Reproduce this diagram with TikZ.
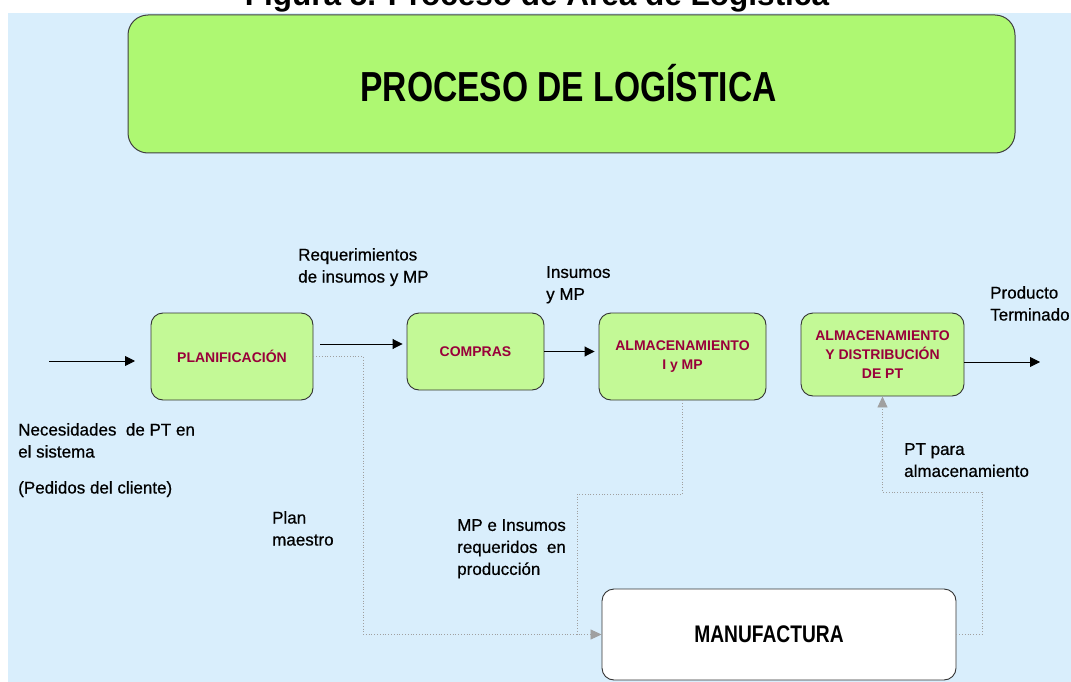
\documentclass[tikz,border=0pt]{standalone}
\usepackage{fontspec}
\setmainfont{Liberation Sans}
\newfontfamily\narrowfont[FakeStretch=0.8]{Liberation Sans}
\newfontfamily\labelfont[FakeBold=0.6]{Liberation Sans}
\usetikzlibrary{arrows.meta}

\definecolor{bgblue}{HTML}{D9EEFC}
\definecolor{titlegreen}{HTML}{AEF872}
\definecolor{boxgreen}{HTML}{C3F996}
\definecolor{boxred}{HTML}{99003A}
\definecolor{flowgray}{HTML}{A0A0A0}

\begin{document}
\begin{tikzpicture}[x=1pt, y=-1pt]
        \tikzset{
            proc/.style={draw=black!80, line width=0.9pt, rounded corners=12pt, fill=boxgreen,
                inner sep=0pt, align=center, text=boxred,
                font=\bfseries\fontsize{14}{19}\selectfont},
            lbl/.style={anchor=north west, inner sep=0pt, align=left,
                font=\labelfont\fontsize{17}{22}\selectfont},
            arr/.style={line width=0.9pt, -{Triangle[length=10pt, width=10pt]}},
            flow/.style={draw=flowgray, dotted, line width=0.8pt},
            flowarr/.style={flow, -{Triangle[length=11pt, width=10pt, fill=flowgray]}}
        }

        \clip (0,0) rectangle (1071,682);

        % Caption and background
        \node[anchor=base, font=\bfseries\fontsize{31.5}{34}\selectfont] (caption) at (537,6)
            {Figura 5. Proceso de Área de Logística};
        \fill[bgblue] (8,13) rectangle (1071,682);

        % Title
        \node[draw=black!75, line width=1pt, rounded corners=20pt, fill=titlegreen,
            minimum width=887, minimum height=138, inner sep=0pt,
            font=\narrowfont\bfseries\fontsize{42}{46}\selectfont] (title) at (571.5,84)
            {\raisebox{3pt}{PROCESO DE LOGÍSTICA}\hspace*{6pt}};

        % Process boxes
        \node[proc, minimum width=162, minimum height=87] (plan) at (232,356.5) {PLANIFICACIÓN};
        \node[proc, minimum width=137, minimum height=77] (compras) at (475.5,351.5) {COMPRAS};
        \node[proc, minimum width=167, minimum height=87] (almmp) at (682.5,356.5)
            {ALMACENAMIENTO\\I y MP};
        \node[proc, minimum width=163, minimum height=83] (almpt) at (882.5,354.5)
            {ALMACENAMIENTO\\Y DISTRIBUCIÓN\\DE PT};
        \node[proc, fill=white, text=black, minimum width=354, minimum height=91,
            font=\narrowfont\bfseries\fontsize{24}{28}\selectfont] (manuf) at (779,634.5)
            {\raisebox{-3pt}{MANUFACTURA}\hspace*{20pt}};

        % Main flow
        \coordinate (need) at (49,361);
        \coordinate (needend) at (135,361);
        \coordinate (out) at (1040,362);
        \draw[arr] (need) -- (needend);
        \draw[arr] ([shift={(7,-12.5)}]plan.east) -- ([shift={(-4,-7.5)}]compras.west);
        \draw[arr, shorten >=4pt] (compras.east) -- (compras.east -| almmp.west);
        \draw[arr] (almpt.east |- out) -- (out);

        % Dotted flows to and from manufactura
        \coordinate (split) at (577,494);
        \coordinate (back) at (982,492);
        \draw[flowarr] (plan.east) -| ++(50,0) |- (manuf.west);
        \draw[flow] (almmp.south) |- (split) -- (split |- manuf.west);
        \draw[flowarr] (manuf.east) -| (back) -| (almpt.south);

        % Labels
        \node[lbl] (reqlbl) at (298,248) {Requerimientos\\de insumos y MP};
        \node[lbl] (inslbl) at (546,266) {Insumos\\y MP};
        \node[lbl] (prodlbl) at (990,286) {Producto\\Terminado};
        \node[lbl] (needlbl) at (18,423) {Necesidades \ de PT en\\el sistema\\[14pt](Pedidos del cliente)};
        \node[lbl] (planlbl) at (272,511) {Plan\\maestro};
        \node[lbl] (mplbl) at (457,519) {MP e Insumos\\requeridos \ en\\producción};
        \node[lbl] (ptlbl) at (904,443) {PT para\\almacenamiento};
\end{tikzpicture}
\end{document}
